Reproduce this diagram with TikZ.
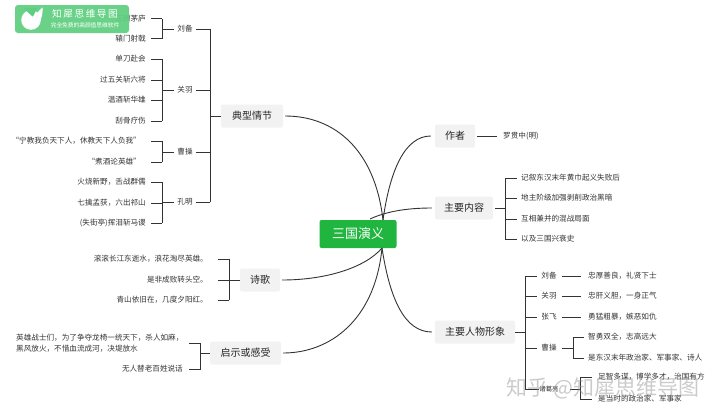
\documentclass[tikz,border=0pt]{standalone}
\usepackage{fontspec}
\setmainfont{Noto Sans CJK SC}
\usepackage{xcolor}
\usetikzlibrary{positioning}
\definecolor{rootgreen}{HTML}{1FB53F}
\definecolor{badgegreen}{HTML}{5FCF7F}
\definecolor{boxgrey}{HTML}{F2F2F2}
\definecolor{linegrey}{HTML}{333333}
\tikzstyle{root}=[rectangle,rounded corners=2pt,fill=rootgreen,text=white,minimum width=77pt,minimum height=28pt,inner sep=0pt,font=\fontsize{13}{13}\selectfont]
\tikzstyle{topic}=[rectangle,rounded corners=2pt,fill=boxgrey,text=black!85,minimum height=23pt,inner sep=0pt,font=\fontsize{10}{10}\selectfont]
\tikzstyle{person}=[inner sep=0pt,text=black!80,font=\fontsize{7.6}{7.6}\selectfont]
\tikzstyle{leafl}=[person,anchor=east]
\tikzstyle{leafr}=[person,anchor=west]
\tikzstyle{curve}=[draw=linegrey,line width=.9pt]
\tikzstyle{edge}=[draw=linegrey,line width=.9pt]
\begin{document}
\begin{tikzpicture}[x=1pt,y=-1pt]
    \useasboundingbox (0,0) rectangle (720,418);
    % centre and topics
    \node[root] (root) at (358,234) {三国演义};
    \coordinate (roottop) at (383,220);
    \coordinate (rootright) at (370,219);
    \coordinate (rootbot) at (382,248);
    \foreach \pos/\name/\wid/\label in {{(252,116)/plot/62/典型情节},{(260,280)/poem/40/诗歌},{(245.5,353)/moral/71/启示或感受},{(455,136)/author/40/作者},{(464,208)/content/58/主要内容},{(475,332)/people/80/主要人物形象}}
        \node[topic,minimum width=\wid pt] (\name) at \pos {\label};
    % curves from the centre
    \path[curve] (roottop) .. controls (375,150) and (335,116) .. ([xshift=2pt]plot.east);
    \path[curve] (roottop) .. controls (390,170) and (405,136) .. ([xshift=-4pt]author.west);
    \path[curve] (rootright) .. controls (385,212) and (405,208) .. ([xshift=-3pt]content.west);
    \path[curve] (rootbot) .. controls (365,268) and (325,280) .. ([xshift=2pt]poem.east);
    \path[curve] (rootbot) .. controls (375,320) and (330,353) .. ([xshift=2pt]moral.east);
    \path[curve] (rootbot) .. controls (390,300) and (405,332) .. ([xshift=-3pt]people.west);
    % left side, second level
    \foreach \y/\name/\label in {29/liu/刘备,90/guan/关羽,152/cao/曹操,202/kong/孔明}
        \node[person] (\name) at (185,\y) {\label};
    \coordinate (plottrunk) at (210,116);
    \path[edge] (plot.west) -- (plottrunk);
    \path[edge] (210,29) -- (210,202);
    \foreach \name in {liu,guan,cao,kong}
        \path[edge] ([xshift=3pt]\name.east) -- (plottrunk |- \name);
    % left side, leaves: each one has a stub to the bracket
    \foreach \y/\name/\label in {18.5/lfa/三顾茅庐,38.5/lfb/辕门射戟,59/lga/单刀赴会,80/lgb/过五关斩六将,100/lgc/温酒斩华雄,121/lgd/刮骨疗伤,182/lka/火烧新野，舌战群儒,203/lkb/七擒孟获，六出祁山,223/lkc/(失街亭)挥泪斩马谡}
        {\node[leafl] (\name) at (146,\y) {\label};
        \path[edge] ([xshift=5pt]\name.east) -- (162,\y);}
    \foreach \y/\name/\label in {141/lca/“宁教我负天下人，休教天下人负我”,162/lcb/“煮酒论英雄”}
        {\node[leafl] (\name) at (141,\y) {\label};
        \path[edge] (151,\y) -- (162,\y);}
    \path[edge] (162,18.5) -- (162,38.5);
    \path[edge] (162,59) -- (162,121);
    \path[edge] (162,141) -- (162,162);
    \path[edge] (162,182) -- (162,223);
    \foreach \name in {liu,guan,cao,kong}
        \path[edge] ([xshift=-3pt]\name.west) -- (162,0 |- \name);
    % poem
    \foreach \y/\name/\label in {259/pa/滚滚长江东逝水，浪花淘尽英雄。,280/pb/是非成败转头空。,300/pc/青山依旧在，几度夕阳红。}
        {\node[leafl] (\name) at (208,\y) {\label};
        \path[edge] (218,\y) -- (229,\y);}
    \path[edge] (229,259) -- (229,300);
    \path[edge] (229,280) -- (poem.west);
    % moral
    \node[leafr,align=left] (ma) at (16,343) {英雄战士们，为了争夺龙椅一统天下，杀人如麻，\\[3.6pt]黑风放火，不惜血流成河，决堤放水};
    \node[leafl] (mb) at (183,369) {无人替老百姓说话};
    \path[edge] (189,343) -- (200,343) -- (200,369) -- (189,369);
    \path[edge] (200,353) -- (moral.west);
    % right side
    \node[leafr] (luo) at (503,136) {罗贯中(明)};
    \path[edge] (author.east) ++(2,0) -- ([xshift=-6pt]luo.west);
    \foreach \y/\name/\label in {178/ca/记叙东汉末年黄巾起义失败后,198/cb/地主阶级加强剥削政治黑暗,219/cc/互相兼并的混战局面,239/cd/以及三国兴衰史}
        {\node[leafr] (\name) at (521,\y) {\label};
        \path[edge] (505,\y) -- (517,\y);}
    \path[edge] (505,178) -- (505,239);
    \path[edge] ([xshift=2pt]content.east) -- (505,208);
    % people
    \path[edge] (people.east) -- (525,332);
    \path[edge] (525,276) -- (525,389);
    \foreach \y/\name/\label in {276/rliu/刘备,296/rguan/关羽,317/rzhang/张飞,348/rcao/曹操}
        {\node[person] (\name) at (549,\y) {\label};
        \path[edge] (525,\y) -- (537,\y);}
    \node[person,font=\fontsize{6.4}{6.4}\selectfont] (rzhu) at (549,389) {诸葛亮};
    \path[edge] (525,389) -- (rzhu.west);
    \foreach \y/\name/\label in {276/ta/忠厚善良，礼贤下士,296/tb/忠肝义胆，一身正气,317/tc/勇猛粗暴，嫉恶如仇}
        {\node[leafr] (\name) at (588,\y) {\label};
        \path[edge] (562,\y) -- (581,\y);}
    \foreach \y/\name/\label in {337/tca/智勇双全，志高远大,358/tcb/是东汉末年政治家、军事家、诗人}
        {\node[leafr] (\name) at (588,\y) {\label};
        \path[edge] (573,\y) -- (584,\y);}
    \path[edge] (573,337) -- (573,358);
    \path[edge] (562,348) -- (573,348);
    \node[leafr] (tza) at (598,377) {足智多谋，博学多才，治国有方};
    \node[leafr] (tzb) at (598,399) {是当时的政治家、军事家};
    \path[edge] (592,377) -- (580,377) -- (580,399) -- (592,399);
    \path[edge] (570,389) -- (580,389);
    % watermark and badge
    \node[inner sep=0pt,text=black!45,opacity=.45,font=\fontsize{21}{21}\selectfont] (mark) at (603,388) {知乎 @知犀思维导图};
    \node[rectangle,rounded corners=3pt,fill=badgegreen,fill opacity=.93,minimum width=114pt,minimum height=28pt,inner sep=0pt] (badge) at (72,19) {};
    \fill[white] (31,20) circle (9.8);
    \fill[badgegreen] (24,8) .. controls (27,12) and (30,14) .. (33,17) -- (37,8) -- cycle;
    \fill[white] (32,17) .. controls (36,14) and (39,11) .. (42.5,7.5) .. controls (43,12) and (42,18) .. (39,24) -- cycle;
    \node[inner sep=0pt,text=white,font=\fontsize{9.6}{9.6}\selectfont] (brand) at (85,14) {知\,犀\,思\,维\,导\,图};
    \node[inner sep=0pt,text=white,font=\fontsize{5.7}{5.7}\selectfont] (slogan) at (85,25) {完全免费的高颜值思维软件};
\end{tikzpicture}
\end{document}
